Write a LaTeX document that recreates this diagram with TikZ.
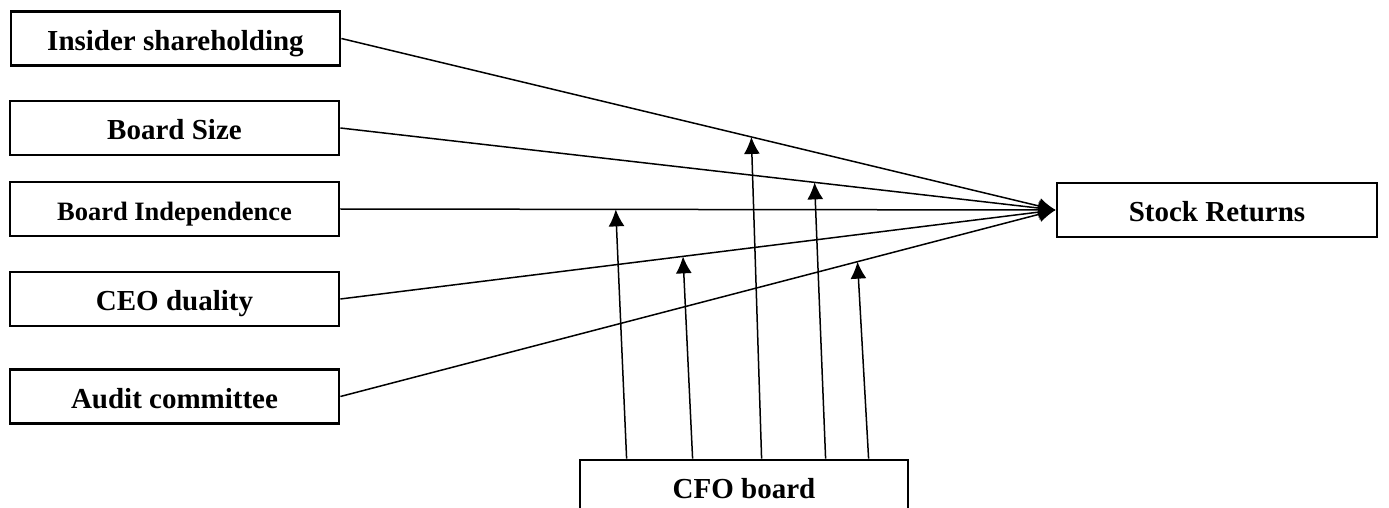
\documentclass[tikz,border=0pt]{standalone}
\usepackage{fontspec}
\setmainfont{Liberation Serif}
\usetikzlibrary{calc,positioning,arrows.meta}

\begin{document}
\begin{tikzpicture}[x=0.5pt,y=-0.5pt,
                    main node/.style={draw,line width=1.4pt,inner sep=0pt,minimum width=164.5pt,minimum height=27pt,
                    text height=14.5pt,text depth=2.6pt,font=\bfseries\fontsize{14.5pt}{17pt}\selectfont},
                    link/.style={line width=0.75pt,-{Latex[length=8.5pt,width=8pt]}}]
 \useasboundingbox (0,0) rectangle (1389,508);

 \node[main node] (insider) at (175.5,38.5) {Insider shareholding};

 \node[main node] (size) at (174.5,128) {Board Size};

 \node[main node,font=\bfseries\fontsize{13.25pt}{16pt}\selectfont] (indep) at (174.5,209) {Board Independence};

 \node[main node] (duality) at (174.5,299) {CEO duality};

 \node[main node] (audit) at (174.5,396.5) {Audit committee};

 \node[main node,minimum width=160pt] (returns) at (1217,210) {Stock Returns};

 \node[main node,minimum width=164pt] (cfo) at (744,487) {CFO board};

 % points on the links that the CFO board arrows reach
 \coordinate (m1) at ($(indep.east)!0.385!(returns.west)$);
 \coordinate (m2) at ($(duality.east)!0.479!(returns.west)$);
 \coordinate (m3) at ($(insider.east)!0.574!(returns.west)$);
 \coordinate (m4) at ($(size.east)!0.663!(returns.west)$);
 \coordinate (m5) at ($(audit.east)!0.723!(returns.west)$);

 \coordinate (b1) at ($(cfo.north west)+(48,0)$);
 \coordinate (b2) at ($(cfo.north west)+(114,0)$);
 \coordinate (b3) at ($(cfo.north west)+(183,0)$);
 \coordinate (b4) at ($(cfo.north west)+(247,0)$);
 \coordinate (b5) at ($(cfo.north west)+(290,0)$);

  \path[link]
    (insider.east) edge (returns.west)
    (size.east) edge (returns.west)
    (indep.east) edge (returns.west)
    (duality.east) edge (returns.west)
    (audit.east) edge (returns.west);

  \path[link]
    (b1) edge (m1)
    (b2) edge (m2)
    (b3) edge (m3)
    (b4) edge (m4)
    (b5) edge (m5);

\end{tikzpicture}
\end{document}
